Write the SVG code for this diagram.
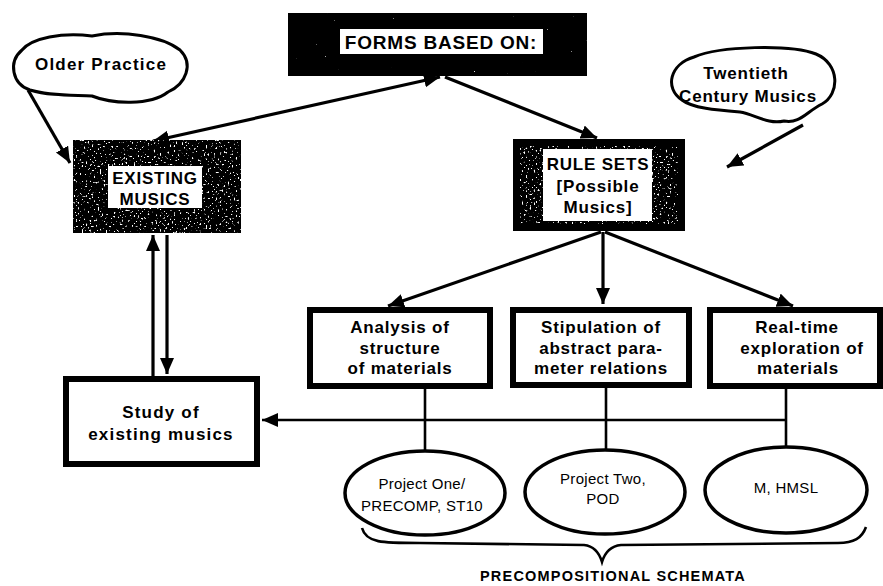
<svg xmlns="http://www.w3.org/2000/svg" width="883" height="586" viewBox="0 0 883 586">
<style>
  .t{font-family:"Liberation Sans",Arial,sans-serif;font-weight:bold;fill:#000;text-anchor:middle;dominant-baseline:central;font-size:17px;letter-spacing:0.8px}
  .r{font-family:"Liberation Sans",Arial,sans-serif;font-weight:normal;fill:#000;text-anchor:middle;dominant-baseline:central;font-size:15px;letter-spacing:0.3px}
  .box{fill:#fff;stroke:#000;stroke-width:6}
  .ell{fill:#fff;stroke:#000;stroke-width:3.5}
  .cloud{fill:#fff;stroke:#000;stroke-width:3}
  .ln{fill:none;stroke:#000;stroke-width:3.2}
  .lnt{fill:none;stroke:#000;stroke-width:2.6}
</style>
<defs>
  <marker id="ah" markerUnits="userSpaceOnUse" markerWidth="18" markerHeight="16" refX="16" refY="7" orient="auto-start-reverse">
    <path d="M0,0 L16,7 L0,14 z" fill="#000"/>
  </marker>
  <filter id="spk" x="0" y="0" width="1" height="1">
    <feTurbulence type="fractalNoise" baseFrequency="0.45" numOctaves="2" seed="4"/>
    <feColorMatrix type="matrix" values="0 0 0 0 1  0 0 0 0 1  0 0 0 0 1  16 0 0 0 -13"/>
  </filter>
  <filter id="spk2" x="0" y="0" width="1" height="1">
    <feTurbulence type="fractalNoise" baseFrequency="0.5" numOctaves="2" seed="9"/>
    <feColorMatrix type="matrix" values="0 0 0 0 1  0 0 0 0 1  0 0 0 0 1  12 0 0 0 -7.6"/>
  </filter>
</defs>

<g id="connectors">
  <line class="ln" x1="440" y1="77" x2="153" y2="141" marker-start="url(#ah)" marker-end="url(#ah)"/>
  <line class="ln" x1="445" y1="77" x2="597" y2="138" marker-end="url(#ah)"/>
  <path class="ln" d="M28,90 L70,163" marker-end="url(#ah)"/>
  <path class="ln" d="M803,125 L727,167" marker-end="url(#ah)"/>
  <line class="ln" x1="601" y1="232" x2="388" y2="306" marker-end="url(#ah)"/>
  <line class="ln" x1="603" y1="232" x2="603" y2="304" marker-end="url(#ah)"/>
  <line class="ln" x1="605" y1="232" x2="793" y2="306" marker-end="url(#ah)"/>
  <line class="ln" x1="153" y1="376" x2="153" y2="235" marker-end="url(#ah)"/>
  <line class="ln" x1="167" y1="235" x2="167" y2="374" marker-end="url(#ah)"/>
  <line class="lnt" x1="425" y1="389" x2="425" y2="451"/>
  <line class="lnt" x1="606" y1="388" x2="606" y2="450"/>
  <line class="lnt" x1="786" y1="389" x2="786" y2="448"/>
  <line class="lnt" x1="786" y1="420" x2="262" y2="420" marker-end="url(#ah)"/>
</g>

<g id="forms">
  <rect x="288" y="13" width="299" height="63" fill="#000"/>
  <rect x="288" y="13" width="299" height="63" filter="url(#spk)"/>
  <rect x="340" y="29" width="203" height="25" fill="#fff"/>
  <text class="t" x="441" y="42" style="font-size:19px">FORMS BASED ON:</text>
</g>

<g id="older-practice">
  <path class="cloud" d="M30,90 C12,84 8,62 22,50 C32,38 62,32 92,36 C122,30 162,36 180,50 C194,64 186,84 168,92 C150,106 112,104 92,96 C72,95 50,96 30,90 Z"/>
  <text class="t" x="101" y="64" style="letter-spacing:1.2px">Older Practice</text>
</g>

<g id="twentieth">
  <path class="cloud" d="M682,100 C664,88 670,64 694,57 C720,46 790,44 816,54 C840,64 840,94 822,104 C806,112 800,124 784,121 C768,125 754,114 740,112 C716,110 692,108 682,100 Z"/>
  <text class="t" x="746" y="73">Twentieth</text>
  <text class="t" x="748" y="96">Century Musics</text>
</g>

<g id="existing">
  <rect x="73" y="140" width="168" height="93" fill="#000"/>
  <rect x="73" y="140" width="168" height="93" filter="url(#spk2)"/>
  <rect x="108" y="166" width="94" height="42" fill="#fff"/>
  <text class="t" x="155" y="178">EXISTING</text>
  <text class="t" x="155" y="199">MUSICS</text>
</g>

<g id="rulesets">
  <rect x="513" y="139" width="172" height="92" fill="#000"/>
  <rect x="520" y="146" width="158" height="78" filter="url(#spk2)"/>
  <rect x="543" y="149" width="109" height="72" fill="#fff"/>
  <text class="t" x="598" y="164">RULE SETS</text>
  <text class="t" x="598" y="186">[Possible</text>
  <text class="t" x="598" y="207">Musics]</text>
</g>

<g id="analysis">
  <rect class="box" x="310" y="310" width="180" height="76"/>
  <text class="t" x="400" y="327">Analysis of</text>
  <text class="t" x="400" y="348">structure</text>
  <text class="t" x="400" y="368">of materials</text>
</g>

<g id="stipulation">
  <rect class="box" x="513" y="310" width="176" height="75"/>
  <text class="t" x="601" y="327">Stipulation of</text>
  <text class="t" x="601" y="348">abstract para-</text>
  <text class="t" x="601" y="368">meter relations</text>
</g>

<g id="realtime">
  <rect class="box" x="710" y="310" width="170" height="76"/>
  <text class="t" x="797" y="327">Real-time</text>
  <text class="t" x="802" y="348">exploration of</text>
  <text class="t" x="798" y="368">materials</text>
</g>

<g id="study">
  <rect class="box" x="66" y="379" width="191" height="85"/>
  <text class="t" x="161" y="412" style="letter-spacing:1.2px">Study of</text>
  <text class="t" x="161" y="434" style="letter-spacing:1.2px">existing musics</text>
</g>

<g id="project-one">
  <ellipse class="ell" cx="425" cy="493" rx="80" ry="42"/>
  <text class="r" x="422" y="483">Project One/</text>
  <text class="r" x="422" y="505">PRECOMP, ST10</text>
</g>

<g id="project-two">
  <ellipse class="ell" cx="605" cy="492" rx="80" ry="42"/>
  <text class="r" x="603" y="478">Project Two,</text>
  <text class="r" x="603" y="498">POD</text>
</g>

<g id="mhmsl">
  <ellipse class="ell" cx="786" cy="490" rx="81" ry="43"/>
  <text class="r" x="786" y="487">M, HMSL</text>
</g>

<g id="schemata">
  <path class="lnt" d="M362,528 C366,543 382,543 420,543 L584,545 C594,546 599,552 602,562 C605,552 611,546 621,545 L838,543 C854,543 862,538 866,527"/>
  <text class="t" x="613" y="576" style="font-size:14.5px;letter-spacing:1.2px">PRECOMPOSITIONAL SCHEMATA</text>
</g>
</svg>
